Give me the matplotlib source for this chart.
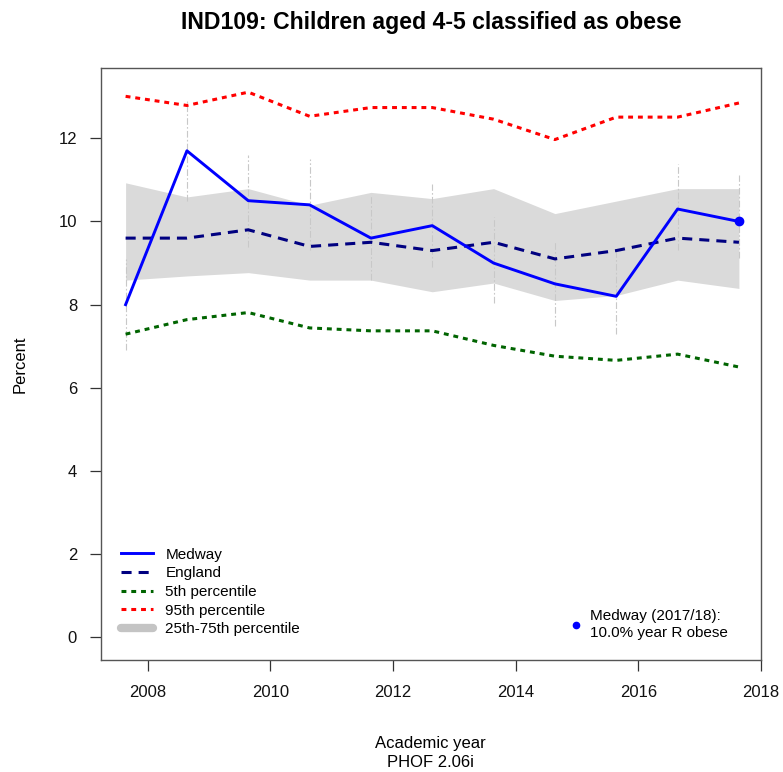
import matplotlib
matplotlib.use("Agg")
import matplotlib.pyplot as plt
from matplotlib.lines import Line2D

plt.rcParams['font.family'] = ['Liberation Sans', 'DejaVu Sans']

# Academic years 2007/08 ... 2017/18, plotted mid-way through the school year
x_pos = [2007.64, 2008.64, 2009.64, 2010.64, 2011.64, 2012.64,
         2013.64, 2014.64, 2015.64, 2016.64, 2017.64]

medway = [8.0, 11.7, 10.5, 10.4, 9.6, 9.9, 9.0, 8.5, 8.2, 10.3, 10.0]
medway_lci = [6.90, 10.50, 9.39, 9.31, 8.59, 8.90, 8.03, 7.49, 7.29, 9.31, 9.11]
medway_uci = [9.10, 12.90, 11.59, 11.51, 10.63, 10.91, 10.11, 9.51, 9.31, 11.39, 11.11]
england = [9.6, 9.6, 9.8, 9.4, 9.5, 9.3, 9.5, 9.1, 9.3, 9.6, 9.5]
pct5 = [7.29, 7.64, 7.81, 7.44, 7.37, 7.37, 7.02, 6.76, 6.66, 6.81, 6.50]
pct95 = [13.01, 12.79, 13.11, 12.53, 12.74, 12.74, 12.46, 11.97, 12.51, 12.51, 12.85]
pct25 = [8.59, 8.69, 8.77, 8.59, 8.59, 8.31, 8.52, 8.10, 8.22, 8.59, 8.39]
pct75 = [10.93, 10.59, 10.79, 10.39, 10.70, 10.55, 10.79, 10.19, 10.49, 10.79, 10.79]

x_ticks = [2008, 2010, 2012, 2014, 2016, 2018]
y_ticks = [0, 2, 4, 6, 8, 10, 12]

latest_label = "Medway (2017/18):\n10.0% year R obese"

W, H = 783, 772
fig = plt.figure(figsize=(W / 100, H / 100), dpi=100)
ax = fig.add_axes([100.7 / W, 1 - 660 / H, (761 - 100.7) / W, (660 - 68.3) / H])

band_col = '#DADADA'
ax.fill_between(x_pos, pct25, pct75, color=band_col, lw=0, zorder=1)

# confidence intervals for Medway
ax.vlines(x_pos, medway_lci, medway_uci, colors='#C8C8C8', lw=0.8,
          linestyles=(0, (6, 2, 1.5, 2)), zorder=2)

ax.plot(x_pos, pct95, color='#FF0000', lw=2.2, dashes=(1.6, 1.6),
        dash_capstyle='butt', zorder=3)
ax.plot(x_pos, pct5, color='#006400', lw=2.2, dashes=(1.6, 1.6),
        dash_capstyle='butt', zorder=3)
ax.plot(x_pos, england, color='#000080', lw=2.2, dashes=(3.3, 2.3),
        dash_capstyle='butt', zorder=4)
ax.plot(x_pos, medway, color='#0000FF', lw=2.1, zorder=5)
ax.plot(x_pos[-1:], medway[-1:], 'o', color='#0000FF', ms=6, zorder=6)

ax.set_xlim(2007.234, 2018.0)
ax.set_ylim(-0.546, 13.684)
ax.set_xticks(x_ticks)
ax.set_yticks(y_ticks)
ax.set_xticklabels([str(t) for t in x_ticks])
ax.set_yticklabels([str(t) for t in y_ticks])
ax.tick_params(axis='both', direction='out', length=8, width=0.9,
               color='#333333', labelsize=12, labelcolor='#111111')
ax.tick_params(axis='x', pad=10)
ax.tick_params(axis='y', pad=9)
for s in ax.spines.values():
    s.set_color('#555555')
    s.set_linewidth(1.0)

fig.text(431 / W, 1 - 22.5 / H, "IND109: Children aged 4-5 classified as obese",
         fontsize=16.6, fontweight='bold', ha='center', va='center')
ax.set_ylabel("Percent", fontsize=12, labelpad=22)
ax.set_xlabel("Academic year\nPHOF 2.06i", fontsize=12, labelpad=26,
              linespacing=1.3)

handles = [
    Line2D([], [], color='#0000FF', lw=2.1),
    Line2D([], [], color='#000080', lw=2.2, dashes=(3.3, 2.3), dash_capstyle='butt'),
    Line2D([], [], color='#006400', lw=2.2, dashes=(1.6, 1.6), dash_capstyle='butt'),
    Line2D([], [], color='#FF0000', lw=2.2, dashes=(1.6, 1.6), dash_capstyle='butt'),
    Line2D([], [], color='#C4C4C4', lw=6, solid_capstyle='round'),
]
labels = ["Medway", "England", "5th percentile", "95th percentile",
          "25th-75th percentile"]
leg = ax.legend(handles, labels, loc='upper left',
                bbox_to_anchor=((121 - 100.7) / 660.3, (660 - 547.5) / 591.7),
                frameon=False, fontsize=11, handlelength=2.1,
                handletextpad=0.8, labelspacing=0.31, borderpad=0,
                borderaxespad=0)
ax.add_artist(leg)

pt_handle = [Line2D([], [], ls='none', marker='o', color='#0000FF', ms=4.5)]
leg2 = ax.legend(pt_handle, [latest_label], loc='upper left',
                 bbox_to_anchor=((571 - 100.7) / 660.3, (660 - 609) / 591.7),
                 frameon=False, fontsize=11, handlelength=0.6, handletextpad=0.65,
                 borderpad=0, borderaxespad=0)
for t in leg2.get_texts():
    t.set_linespacing(1.3)

fig.savefig("out.png", dpi=100)
